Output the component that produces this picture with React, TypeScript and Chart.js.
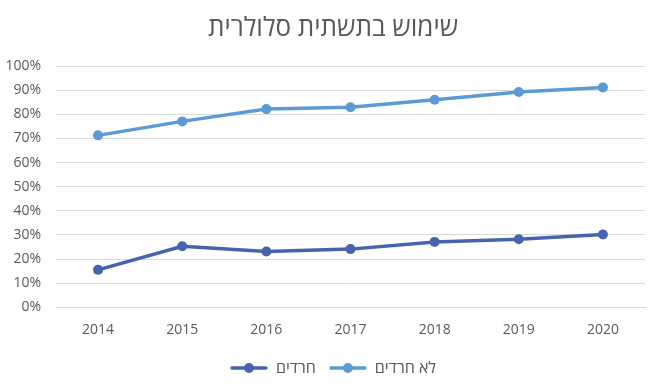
import React, { useEffect, useRef } from "react";
import { Chart, registerables } from "chart.js";

Chart.register(...registerables);

const years = ["2014", "2015", "2016", "2017", "2018", "2019", "2020"];
const haredim = [15.5, 25.3, 23.1, 24.1, 27.1, 28.2, 30.2];
const nonHaredim = [71.3, 77.1, 82.2, 83.0, 86.1, 89.3, 91.2];
const seriesNames = ["חרדים", "לא חרדים"];
const titleText = "שימוש בתשתית סלולרית";

const DARK = "#4563AE";
const LIGHT = "#5B9BD5";
const FONT = "'Open Sans', 'Liberation Sans', 'DejaVu Sans', sans-serif";

function legendMarker(color: string) {
  const c = document.createElement("canvas");
  c.width = 38;
  c.height = 12;
  const ctx = c.getContext("2d")!;
  ctx.strokeStyle = color;
  ctx.lineWidth = 3.5;
  ctx.lineCap = "round";
  ctx.beginPath();
  ctx.moveTo(2, 6);
  ctx.lineTo(36, 6);
  ctx.stroke();
  ctx.fillStyle = color;
  ctx.beginPath();
  ctx.arc(19, 6, 5, 0, Math.PI * 2);
  ctx.fill();
  return c;
}

export default function App() {
  const ref = useRef<HTMLCanvasElement>(null);
  useEffect(() => {
    const markers = [legendMarker(DARK), legendMarker(LIGHT)];
    const chart = new Chart(ref.current!, {
      type: "line",
      data: {
        labels: years,
        datasets: [
          {
            label: seriesNames[0],
            data: haredim,
            borderColor: DARK,
            backgroundColor: DARK,
            borderWidth: 3.5,
            pointRadius: 5,
            pointHoverRadius: 5,
            pointBorderWidth: 0,
          },
          {
            label: seriesNames[1],
            data: nonHaredim,
            borderColor: LIGHT,
            backgroundColor: LIGHT,
            borderWidth: 3.5,
            pointRadius: 5,
            pointHoverRadius: 5,
            pointBorderWidth: 0,
          },
        ],
      },
      options: {
        animation: false,
        responsive: false,
        maintainAspectRatio: false,
        layout: { padding: { left: 0, right: 0, top: 0, bottom: 2 } },
        plugins: {
          title: {
            display: true,
            text: titleText,
            color: "#595959",
            font: { family: FONT, size: 26, weight: "normal" },
            padding: { top: 13, bottom: 22 },
          },
          legend: {
            position: "bottom",
            labels: {
              usePointStyle: true,
              pointStyleWidth: 38,
              color: "#595959",
              font: { family: FONT, size: 16 },
              padding: 13,
              generateLabels: (chart: any) => {
                const items = Chart.defaults.plugins.legend.labels.generateLabels(chart);
                return items.map((it: any, i: number) => ({ ...it, pointStyle: markers[i] }));
              },
            },
          },
          tooltip: { enabled: false },
        },
        scales: {
          x: {
            offset: true,
            grid: { display: false },
            border: { display: true, color: "#D9D9D9", width: 1 },
            ticks: { color: "#595959", font: { family: FONT, size: 14 }, padding: 6 },
            afterFit: (s: any) => {
              s.height += 3;
            },
          },
          y: {
            min: 0,
            max: 100,
            grid: { color: "#D9D9D9", drawTicks: false },
            border: { display: false },
            afterFit: (s: any) => {
              s.width = 56;
            },
            ticks: {
              stepSize: 10,
              color: "#595959",
              font: { family: FONT, size: 14 },
              padding: 15,
              callback: (v: any) => v + "%",
            },
          },
          yRightSpace: {
            position: "right",
            min: 0,
            max: 100,
            grid: { display: false, drawTicks: false },
            border: { display: false },
            ticks: { display: false },
            afterFit: (s: any) => {
              s.width = 21;
            },
          },
        },
      },
    });
    return () => chart.destroy();
  }, []);
  return (
    <div style={{ position: "absolute", left: 0, top: 0, width: 666, height: 388, background: "#fff" }}>
      <canvas ref={ref} width={666} height={388} />
    </div>
  );
}
